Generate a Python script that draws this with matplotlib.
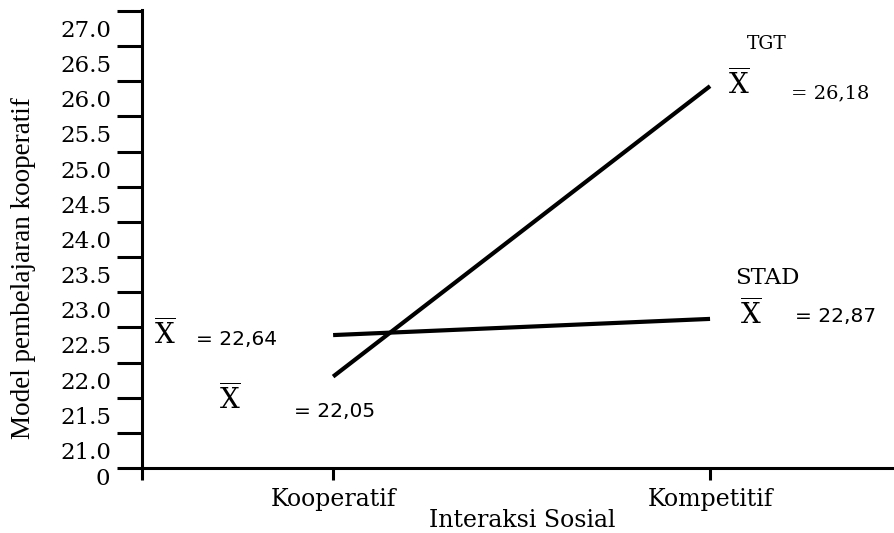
import numpy as np
import matplotlib
matplotlib.use("Agg")
import matplotlib.pyplot as plt

# ---- data ----
categories = ["Kooperatif", "Kompetitif"]
tgt = [22.05, 26.18]
stad = [22.64, 22.87]
ytick_values = [21.0, 21.5, 22.0, 22.5, 23.0, 23.5, 24.0, 24.5, 25.0, 25.5, 26.0, 26.5, 27.0]
ytick_labels = ["21.0", "21.5", "22.0", "22.5", "23.0", "23.5", "24.0", "24.5",
                "25.0", "25.5", "26.0", "26.5", "27.0"]
x_title = "Interaksi Sosial"
y_title = "Model pembelajaran kooperatif"
series_names = ["TGT", "STAD"]

plt.rcParams["mathtext.fontset"] = "dejavuserif"

W, H = 894, 533
fig = plt.figure(figsize=(W / 100, H / 100), dpi=100)
ax = fig.add_axes([142 / W, 65 / H, 752 / W, 458 / H])

ymin = 20.75
ymax = ymin + 458 / 70.33
xmin, xmax = -0.507, 1.488
ax.set_xlim(xmin, xmax)
ax.set_ylim(ymin, ymax)

x = np.arange(len(categories))
ax.plot(x, tgt, color="black", lw=3.0, solid_capstyle="butt")
ax.plot(x, stad, color="black", lw=3.0, solid_capstyle="butt")

# spines
for s in ["top", "right"]:
    ax.spines[s].set_visible(False)
for s in ["left", "bottom"]:
    ax.spines[s].set_linewidth(2.2)

# y ticks: marks between labels, labels as minor ticks
major = np.arange(ymin, ymax + 0.01, 0.5)
ax.set_yticks(major)
ax.set_yticklabels([])
ax.tick_params(axis="y", which="major", length=18, width=2.2, direction="out")
ax.set_yticks(ytick_values, minor=True)
ax.set_yticklabels(ytick_labels, minor=True, fontsize=16.5, family="DejaVu Serif")
ax.tick_params(axis="y", which="minor", length=0, pad=22)
ax.text(-0.042, 0.0, "0", transform=ax.transAxes, ha="right", va="top",
        fontsize=16.5, family="DejaVu Serif")

# x ticks
ax.set_xticks([xmin] + list(x))
ax.set_xticklabels([""] + categories, fontsize=17, family="DejaVu Serif")
ax.tick_params(axis="x", length=8.6, width=2.2, direction="out", pad=6)

ax.set_xlabel(x_title, fontsize=17, family="DejaVu Serif", va="center")
ax.xaxis.set_label_coords(0.505, -0.1157)
ax.set_ylabel(y_title, fontsize=19.5, family="Liberation Serif", va="center")
ax.yaxis.set_label_coords(-0.157, 0.437)

xbar = r"$\overline{\mathrm{X}}$"
def fmt(v):
    return "= " + f"{v:.2f}".replace(".", ",")

# TGT annotations
ax.text(1.15, 26.78, series_names[0], fontsize=13.5, family="DejaVu Serif", ha="center", va="center")
ax.text(1.077, 26.21, xbar, fontsize=20, ha="center", va="center")
ax.text(1.32, 26.08, fmt(tgt[1]), fontsize=14, family="DejaVu Serif", ha="center", va="center")
ax.text(-0.273, 21.73, xbar, fontsize=20, ha="center", va="center")
ax.text(0.005, 21.56, fmt(tgt[0]), fontsize=14.5, family="DejaVu Sans", ha="center", va="center")

# STAD annotations
ax.text(1.151, 23.45, series_names[1], fontsize=16.5, family="DejaVu Serif", ha="center", va="center")
ax.text(1.109, 22.94, xbar, fontsize=20, ha="center", va="center")
ax.text(1.334, 22.90, fmt(stad[1]), fontsize=14.5, family="DejaVu Sans", ha="center", va="center")
ax.text(-0.446, 22.655, xbar, fontsize=20, ha="center", va="center")
ax.text(-0.255, 22.58, fmt(stad[0]), fontsize=14.5, family="DejaVu Sans", ha="center", va="center")

fig.savefig("out.png", dpi=100)
